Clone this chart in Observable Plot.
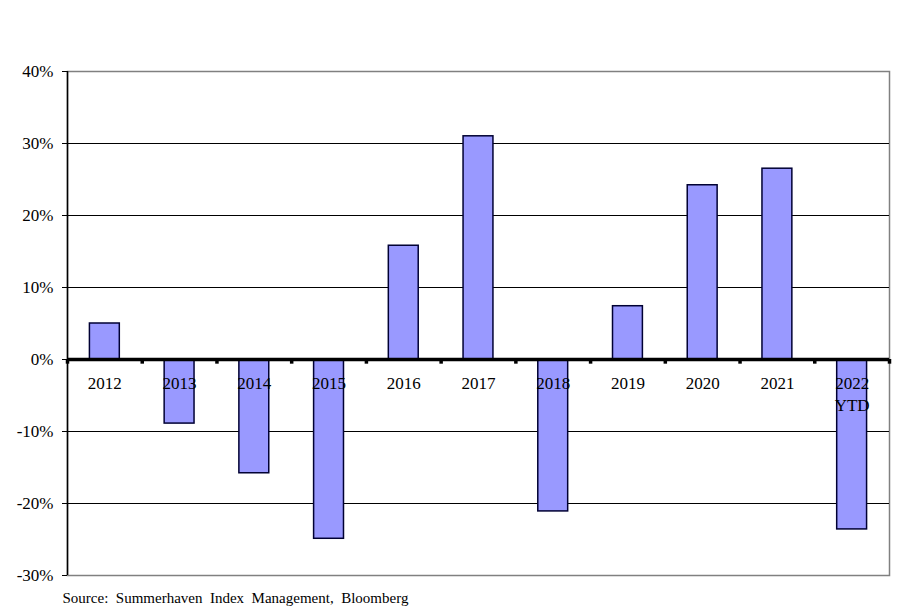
<!DOCTYPE html>
<html>
<head>
<meta charset="utf-8">
<script src="https://cdn.jsdelivr.net/npm/d3@7"></script>
<script src="https://cdn.jsdelivr.net/npm/@observablehq/plot@0.6"></script>
<style>
  html, body { margin: 0; padding: 0; background: #fff; }
  #chart svg { display: block; }
</style>
</head>
<body>
<div id="chart"></div>
<script>
const categories = ["2012", "2013", "2014", "2015", "2016", "2017", "2018", "2019", "2020", "2021", "2022\nYTD"];
const values = [5.0, -8.9, -15.8, -24.9, 15.8, 31.0, -21.1, 7.4, 24.2, 26.5, -23.6];
const yTicks = [-30, -20, -10, 0, 10, 20, 30, 40];
const gridValues = [-20, -10, 10, 20, 30];
const sourceText = "Source:  Summerhaven  Index  Management,  Bloomberg";

const data = categories.map((c, i) => ({i, category: c, value: values[i]}));
const boundaries = d3.range(categories.length + 1);
const serif = "'Liberation Serif', 'Times New Roman', serif";

const chart = Plot.plot({
  width: 900,
  height: 612,
  marginLeft: 67,
  marginRight: 11,
  marginTop: 71,
  marginBottom: 37,
  style: {fontFamily: serif, background: "#fff"},
  x: {domain: [0, categories.length], axis: null},
  y: {domain: [-30, 40], axis: null},
  marks: [
    // plot area border (gray)
    Plot.frame({stroke: "#808080", strokeWidth: 1.5}),
    // gridlines
    Plot.ruleY(gridValues, {stroke: "#000", strokeWidth: 1.2}),
    // left axis line
    Plot.ruleX([0], {stroke: "#000", strokeWidth: 1.5}),
    // y ticks + labels
    Plot.axisY(yTicks, {
      anchor: "left",
      tickSize: 5,
      tickPadding: 9,
      tickFormat: d => d + "%",
      fontSize: 17,
      fill: "#000",
      stroke: "#000",
      label: null
    }),
    // bars
    Plot.rectY(data, {
      x1: d => d.i + 0.3,
      x2: d => d.i + 0.7,
      y1: 0,
      y2: "value",
      fill: "#9999ff",
      stroke: "#000033",
      strokeWidth: 1.5
    }),
    // zero line
    Plot.ruleY([0], {stroke: "#000", strokeWidth: 3.5}),
    // category boundary ticks on zero line
    Plot.ruleX(boundaries, {x: d => d, y1: 0, y2: -0.65, stroke: "#000", strokeWidth: 3.5}),
    // category labels
    Plot.text(data, {
      x: d => d.i + 0.5,
      y: 0,
      text: "category",
      dy: 14,
      lineAnchor: "top",
      lineHeight: 1.3,
      fontSize: 17,
      fill: "#000"
    }),
    // source caption
    Plot.text([sourceText], {
      frameAnchor: "bottom-left",
      text: d => d,
      textAnchor: "start",
      lineAnchor: "middle",
      dx: -5,
      dy: 23,
      fontSize: 15,
      fill: "#000"
    })
  ]
});

document.getElementById("chart").appendChild(chart);
</script>
</body>
</html>
